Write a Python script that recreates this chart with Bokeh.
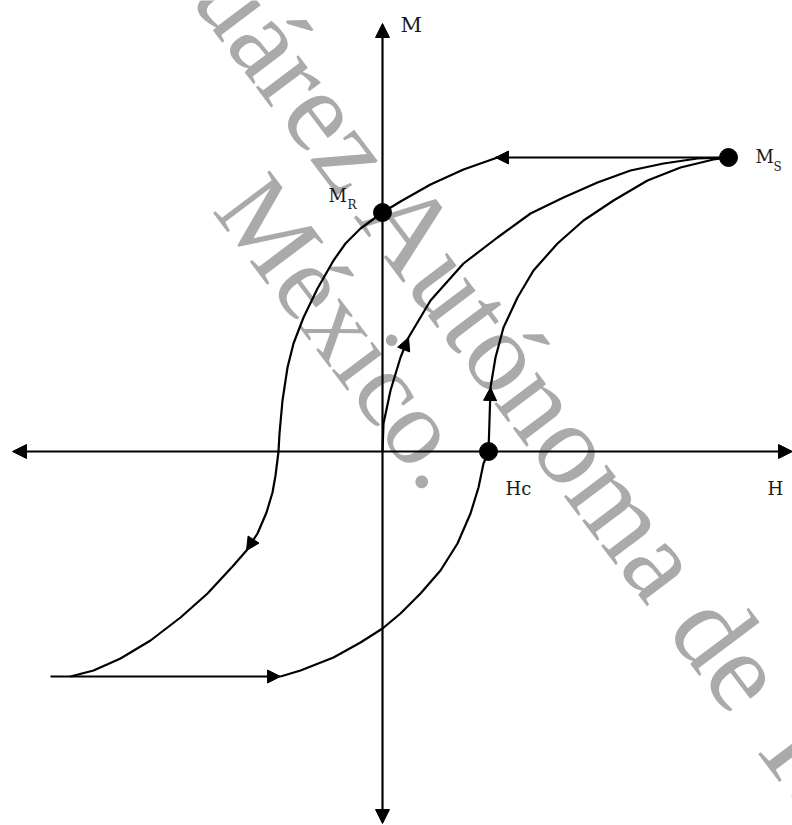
from bokeh.plotting import figure
from bokeh.models import Range1d, Arrow, NormalHead
from bokeh.core.properties import value
from bokeh.embed import file_html
from bokeh.resources import INLINE
import math

# ---- data (H, M) ----
# descending branch: from the end of the top plateau, through M_R, down to -Ms
desc_h = [1.15, 0.81, 0.48, 0.18, 0.00, -0.22, -0.37, -0.49, -0.65, -0.79, -0.89, -0.95,
          -1.00, -1.03, -1.04, -1.07, -1.10, -1.16, -1.25, -1.36, -1.50, -1.75, -2.02,
          -2.32, -2.62, -2.89, -3.12]
desc_m = [2.94, 2.82, 2.67, 2.50, 2.39, 2.23, 2.08, 1.91, 1.63, 1.34, 1.08, 0.84,
          0.51, 0.18, 0.00, -0.24, -0.41, -0.61, -0.82, -0.99, -1.15, -1.42, -1.66,
          -1.89, -2.07, -2.19, -2.25]
# ascending branch: from the end of the bottom plateau, through Hc, up to Ms
asc_h = [-1.02, -0.82, -0.49, -0.22, 0.00, 0.18, 0.38, 0.58, 0.75, 0.88, 0.96, 1.01, 1.06,
         1.07, 1.08, 1.13, 1.21, 1.35, 1.51, 1.75, 2.01, 2.31, 2.65, 2.98, 3.31, 3.46]
asc_m = [-2.25, -2.19, -2.06, -1.91, -1.77, -1.62, -1.42, -1.19, -0.92, -0.62, -0.36, -0.12, 0.00,
         0.31, 0.64, 0.94, 1.24, 1.54, 1.81, 2.08, 2.31, 2.51, 2.71, 2.84, 2.92, 2.94]
# initial magnetisation curve from the origin to Ms
init_h = [0.00, 0.01, 0.08, 0.18, 0.26, 0.48, 0.81, 1.15, 1.48, 1.81, 2.15, 2.48, 2.81, 3.15, 3.46]
init_m = [0.00, 0.28, 0.61, 0.94, 1.14, 1.51, 1.88, 2.14, 2.38, 2.54, 2.69, 2.81, 2.88, 2.93, 2.94]
# saturation plateaus
top_h = [3.46, 1.13]
top_m = [2.94, 2.94]
bot_h = [-3.32, -1.02]
bot_m = [-2.25, -2.25]
# marked points
pt_h = [3.46, 0.00, 1.06]
pt_m = [2.94, 2.39, 0.00]
# axes extents
h_axis = [-3.70, 4.10]
m_axis = [-3.72, 4.28]

p = figure(width=792, height=825, output_backend="svg", toolbar_location=None,
           x_range=Range1d(-3.82, 4.10), y_range=Range1d(-3.74, 4.51),
           min_border=0, background_fill_color="white", border_fill_color="white")
p.axis.visible = False
p.grid.visible = False
p.outline_line_color = None

# watermark
wm_font = value("Liberation Serif")
wm_ang = -53 * math.pi / 180
p.text(x=[-1.90], y=[5.13], text=["Juárez Autónoma de Tabasco"], angle=wm_ang,
       text_font=wm_font, text_font_size="116px", text_color="#aaaaaa",
       text_align="left", text_baseline="alphabetic")
p.text(x=[-1.42], y=[2.63], text=["México."], angle=wm_ang,
       text_font=wm_font, text_font_size="108px", text_color="#aaaaaa",
       text_align="left", text_baseline="alphabetic")

lw = 2.2
p.line(desc_h, desc_m, line_color="black", line_width=lw)
p.line(asc_h, asc_m, line_color="black", line_width=lw)
p.line(init_h, init_m, line_color="black", line_width=lw)
p.line(top_h, top_m, line_color="black", line_width=lw)
p.line(bot_h, bot_m, line_color="black", line_width=lw)

def head(sz):
    return NormalHead(size=sz, fill_color="black", line_color="black", line_width=1)

# axes with arrowheads at both ends
p.add_layout(Arrow(x_start=h_axis[0], y_start=0, x_end=h_axis[1], y_end=0,
                   start=head(14), end=head(14), line_width=lw, line_color="black"))
p.add_layout(Arrow(x_start=0, y_start=m_axis[0], x_end=0, y_end=m_axis[1],
                   start=head(14), end=head(14), line_width=lw, line_color="black"))

# direction arrowheads on the loop
def dir_arrow(x0, y0, x1, y1):
    p.add_layout(Arrow(x_start=x0, y_start=y0, x_end=x1, y_end=y1, end=head(13),
                       line_alpha=0, line_width=0))

dir_arrow(top_h[0] - 2.0, top_m[0], top_h[1], top_m[1])
dir_arrow(init_h[3], init_m[3], init_h[4], init_m[4])
dir_arrow(asc_h[13], asc_m[13], asc_h[14], asc_m[14])
dir_arrow(desc_h[18], desc_m[18], desc_h[19], desc_m[19])
dir_arrow(bot_h[0], bot_m[0], bot_h[1], bot_m[1])

p.scatter(pt_h, pt_m, size=18, color="black")

lf = value("DejaVu Serif")
def lab(x, y, t, size):
    p.text(x=[x], y=[y], text=[t], text_font=lf, text_font_size=size,
           text_color="#1a1a1a", text_align="left", text_baseline="middle")

lab(0.18, 4.27, "M", "21px")
lab(3.73, 2.95, "M", "18px")
lab(3.91, 2.85, "S", "12px")
lab(-0.54, 2.56, "M", "18px")
lab(-0.35, 2.47, "R", "12px")
lab(1.23, -0.37, "Hc", "18px")
lab(3.85, -0.37, "H", "18px")

open("out.html", "w").write(file_html(p, INLINE))
